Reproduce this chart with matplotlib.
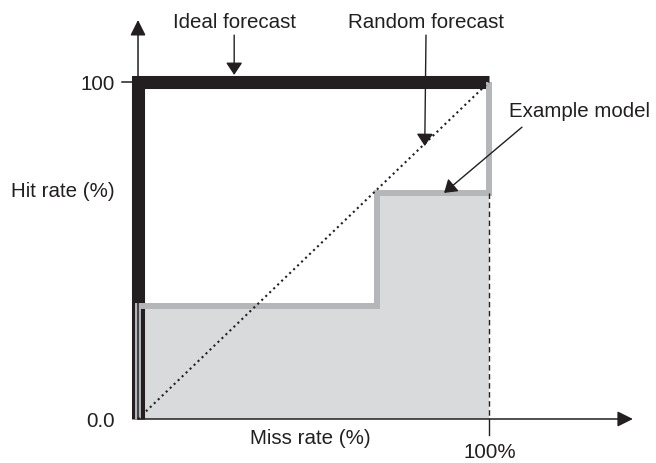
import matplotlib.pyplot as plt

plt.rcParams["font.family"] = ["Liberation Sans", "DejaVu Sans"]

# ROC-style curves (miss rate on x, hit rate on y, in %)
ideal_x = [0, 0, 100]
ideal_y = [0, 100, 100]
random_x = [0, 100]
random_y = [0, 100]
model_x = [0, 0, 68, 68, 100, 100]
model_y = [0, 33.5, 33.5, 67, 67, 100]

y_ticks = [0, 100]
y_tick_labels = ["0.0", "100"]
x_label = "Miss rate (%)"
y_label = "Hit rate (%)"
x_end_label = "100%"

INK = "#231f20"
GRAY_LINE = "#b4b6b9"
GRAY_FILL = "#d9dadc"
FS = 14.8

fig = plt.figure(figsize=(6.56, 4.63), dpi=100)
ax = fig.add_axes([0, 0, 1, 1])
ax.set_xlim(-39.32, 147.58)
ax.set_ylim(-13.06, 124.33)
ax.axis("off")

# model area and curves
ax.fill_between(model_x, model_y, 0, color=GRAY_FILL, lw=0, zorder=1)
ax.plot(ideal_x, ideal_y, color=INK, lw=9.4, solid_joinstyle="miter",
        solid_capstyle="butt", zorder=2)
ax.plot(model_x, model_y, color=GRAY_LINE, lw=4.3, solid_joinstyle="miter",
        solid_capstyle="butt", zorder=3)
ax.plot(random_x, random_y, color=INK, lw=1.5, ls=":", zorder=4)

# dashed drop line at 100% and its tick
ax.plot([100, 100], [model_y[-2], 0], color=INK, lw=1.0, ls=(0, (4, 2.5)), zorder=4)
ax.plot([100, 100], [0, -4.7], color=INK, lw=1.0, zorder=4)

# axes with arrowheads
axis_arrow = dict(arrowstyle="-|>,head_length=0.94,head_width=0.47",
                  mutation_scale=10, lw=1.1, color=INK, shrinkA=0, shrinkB=0)
ax.annotate("", xy=(141.0, 0), xytext=(0, 0), arrowprops=axis_arrow, zorder=5)
ax.annotate("", xy=(0, 118.4), xytext=(0, 0), arrowprops=axis_arrow, zorder=5)

# y ticks
for val, lab in zip(y_ticks, y_tick_labels):
    if val > 0:
        ax.plot([-4.6, 0], [val, val], color=INK, lw=1.1, zorder=5)
    ax.text(-6.55, val - 2.4, lab, ha="right", va="baseline", fontsize=FS, color=INK)

ax.text(-21.4, 65.9, y_label, ha="center", va="baseline", fontsize=FS, color=INK)
ax.text(49.0, -7.4, x_label, ha="center", va="baseline", fontsize=FS, color=INK)
ax.text(100.3, -11.5, x_end_label, ha="center", va="baseline", fontsize=FS, color=INK)

# callouts
note_arrow = dict(arrowstyle="-|>,head_length=0.75,head_width=0.5",
                  mutation_scale=10, lw=1.0, color=INK, shrinkA=0, shrinkB=0)
ax.text(27.4, 116.0, "Ideal forecast", ha="center", va="baseline", fontsize=FS, color=INK)
ax.annotate("", xy=(27.4, 102.1), xytext=(27.4, 113.9), arrowprops=note_arrow, zorder=6)

ax.text(82.05, 116.0, "Random forecast", ha="center", va="baseline", fontsize=FS, color=INK)
ax.annotate("", xy=(81.7, 81.0), xytext=(82.05, 113.9), arrowprops=note_arrow, zorder=6)

ax.text(125.9, 89.6, "Example model", ha="center", va="baseline", fontsize=FS, color=INK)
ax.annotate("", xy=(87.2, 67.1), xytext=(109.4, 86.6), arrowprops=note_arrow, zorder=6)

fig.savefig("out.png", dpi=100)
